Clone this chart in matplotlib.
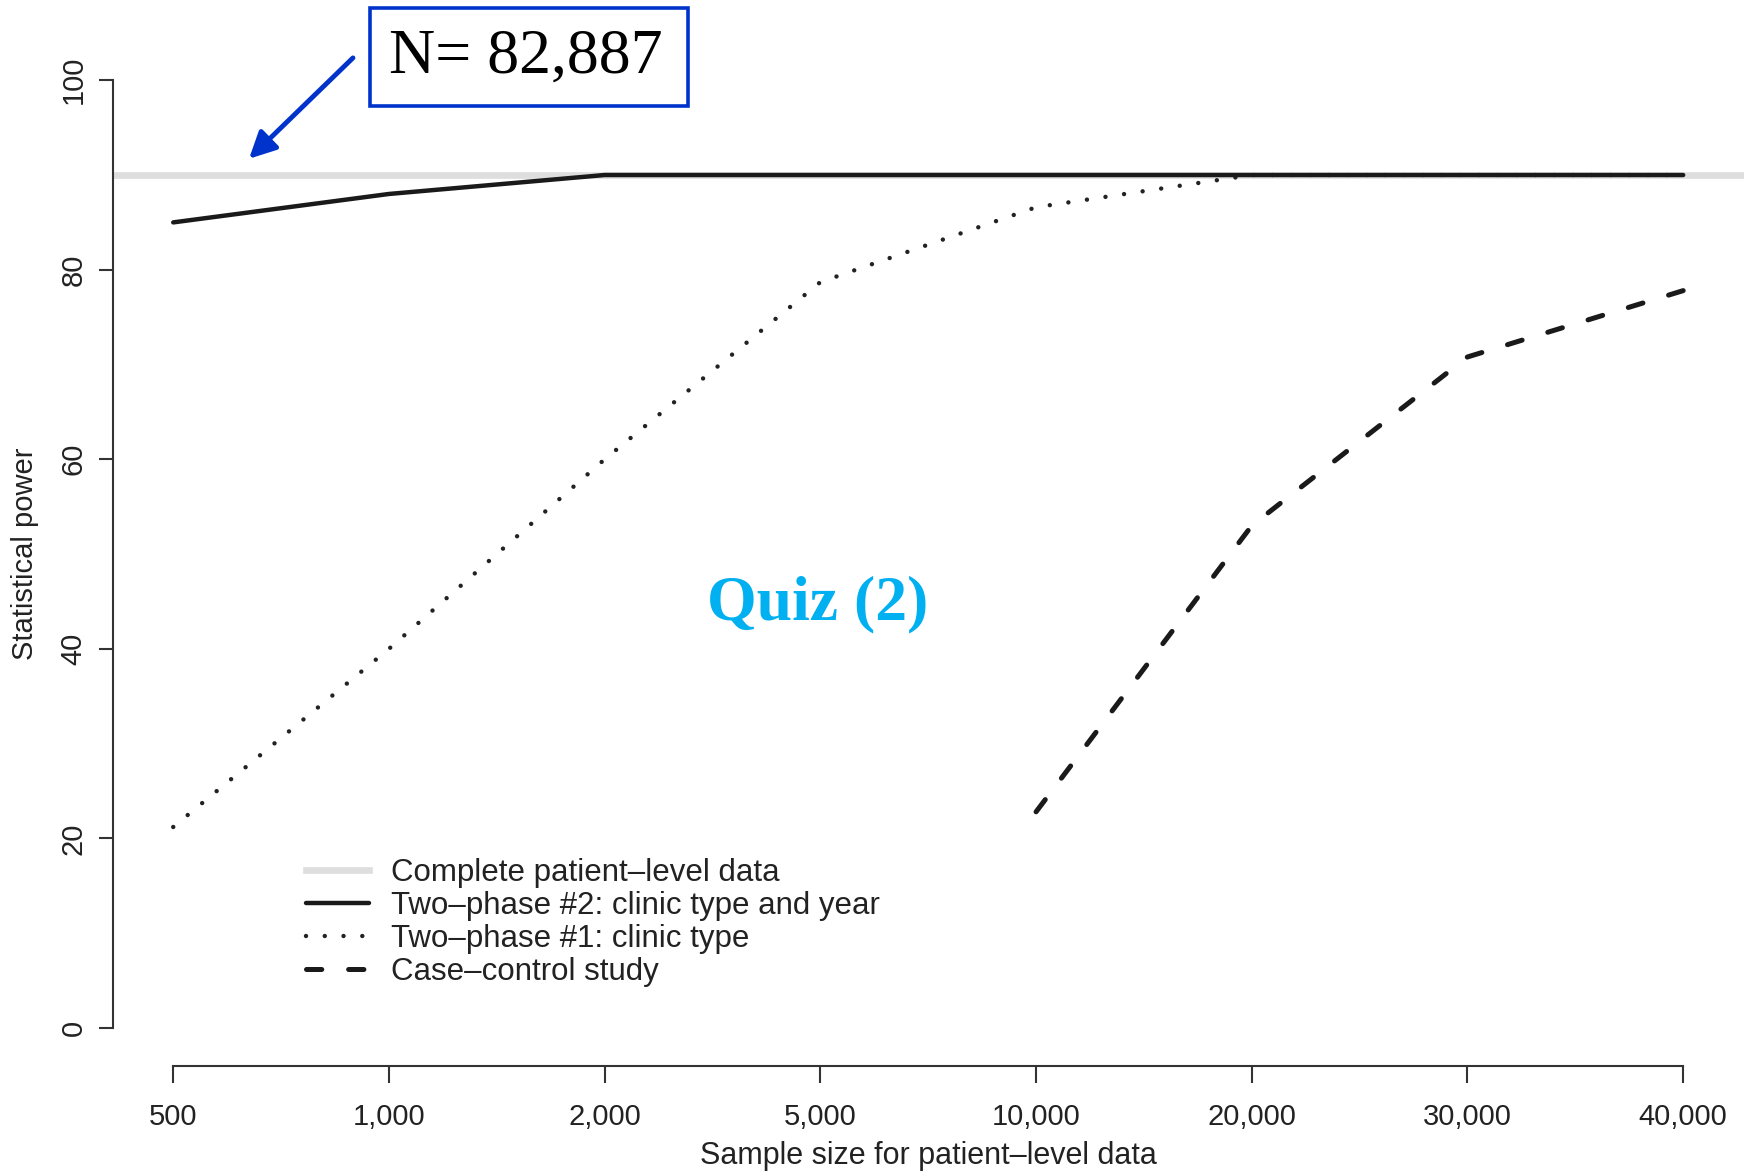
import numpy as np
import matplotlib
matplotlib.use("Agg")
import matplotlib.pyplot as plt
from matplotlib.patches import Rectangle

# data
sample_sizes = ["500", "1,000", "2,000", "5,000", "10,000", "20,000", "30,000", "40,000"]
complete_power = 90
two_phase2 = [85, 88, 90, 90, 90, 90, 90, 90]
two_phase1 = [21.2, 40, 60, 78.7, 86.6, 90, 90, 90]
case_control = [np.nan, np.nan, np.nan, np.nan, 22.8, 53, 70.8, 77.8]
y_ticks = [0, 20, 40, 60, 80, 100]

plt.rcParams['font.family'] = ['Liberation Sans', 'DejaVu Sans']
plt.rcParams['lines.scale_dashes'] = False

fig = plt.figure(figsize=(17.52, 11.73), dpi=100)
ax = fig.add_axes([0.0644, 0.0914, 0.9308, 0.8725])
ax.set_xlim(-0.28, 7.28)
ax.set_ylim(-4, 104)

x = np.arange(len(sample_sizes))

# stretch the dash gap a little so the dashed line starts and ends on a dash
cc = np.array(case_control, dtype=float)
ok = ~np.isnan(cc)
pts = ax.transData.transform(np.column_stack([x[ok], cc[ok]]))
path_len = np.sum(np.hypot(*np.diff(pts, axis=0).T)) * 72 / fig.dpi
dash_on = 11
n_per = max(1, round((path_len - dash_on) / 31))
dash_off = (path_len - dash_on) / n_per - dash_on

ax.axhline(complete_power, color='#dedede', lw=4.8, zorder=1, label='Complete patient\u2013level data')
ax.plot(x, two_phase2, color='#1a1a1a', lw=3.2, solid_capstyle='round', zorder=3,
        label='Two\u2013phase #2: clinic type and year')
ax.plot(x, two_phase1, color='#222222', lw=3.2, dashes=(0.01, 13.5), dash_capstyle='round', zorder=2,
        label='Two\u2013phase #1: clinic type')
ax.plot(x, case_control, color='#1a1a1a', lw=3.6, dashes=(dash_on, dash_off), dash_capstyle='round', zorder=2,
        label='Case\u2013control study')

ax.set_xticks(x)
ax.set_xticklabels(sample_sizes)
ax.set_yticks(y_ticks)
ax.set_yticklabels([str(v) for v in y_ticks], rotation=90, va='center')
for s in ['top', 'right']:
    ax.spines[s].set_visible(False)
ax.spines['left'].set_bounds(0, 100)
ax.spines['bottom'].set_bounds(0, 7)
for s in ['left', 'bottom']:
    ax.spines[s].set_linewidth(1.5)
    ax.spines[s].set_color('#333333')
ax.tick_params(axis='x', length=12, width=1.5, color='#333333', labelsize=21, pad=15, labelcolor='#222222')
ax.tick_params(axis='y', length=10, width=1.5, color='#333333', labelsize=21, pad=8, labelcolor='#222222')

ax.set_xlabel('Sample size for patient\u2013level data', fontsize=22, color='#222222', va='center')
ax.xaxis.set_label_coords(0.5, -0.088)
ax.set_ylabel('Statistical power', fontsize=21, color='#222222', va='center')
ax.yaxis.set_label_coords(-0.054, 0.5)

ax.legend(loc='upper left', bbox_to_anchor=(0.1747, 0.2685), bbox_transform=fig.transFigure,
          frameon=False, fontsize=22.5, handlelength=2.0, handletextpad=0.72,
          labelspacing=0.1, borderpad=0, borderaxespad=0, labelcolor='#222222')

# annotations
fig.text(0.4669, 0.4851, 'Quiz (2)', ha='center', va='center', fontsize=46,
         fontweight='bold', family='Liberation Serif', color='#00B0F0')
fig.patches.append(Rectangle((370 / 1752, 1 - 106 / 1173), 318 / 1752, 98 / 1173,
                             transform=fig.transFigure, fill=False, edgecolor='#0033CC', lw=2.6))
fig.text(0.3002, 0.9506, 'N= 82,887', ha='center', va='center', fontsize=46,
         family='Liberation Serif', color='black')
ax.annotate('', xy=(0.1410, 0.8630), xytext=(0.2026, 0.9523),
            xycoords='figure fraction', textcoords='figure fraction',
            arrowprops=dict(arrowstyle='-|>', lw=3.5, color='#0033CC', mutation_scale=40))

plt.savefig('out.png', dpi=100)
